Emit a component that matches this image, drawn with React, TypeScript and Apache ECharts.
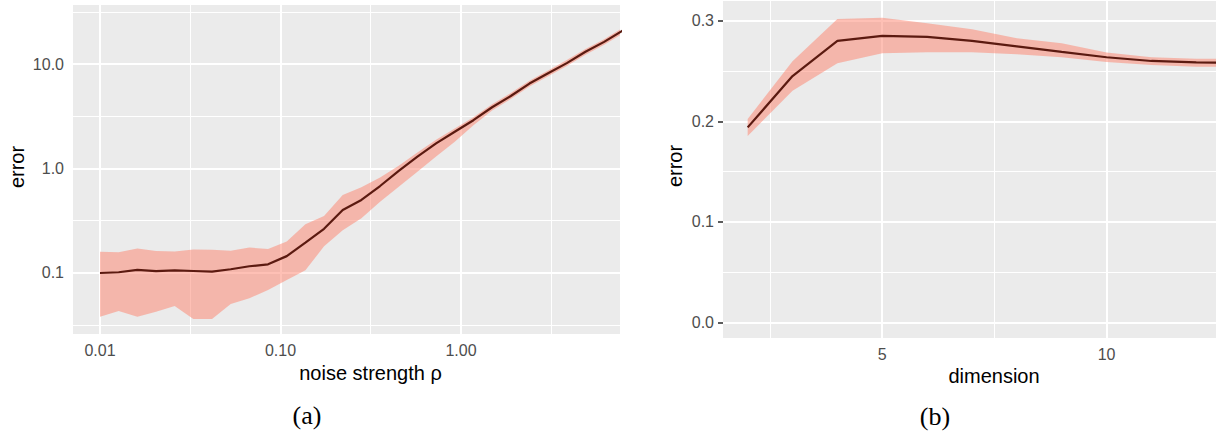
import React, { useEffect, useRef } from "react";
import * as echarts from "echarts";

// ---------- Panel (a): error vs noise strength (log-log) ----------
const noiseStrength = [
  0.01, 0.01269, 0.0161, 0.02043, 0.02593, 0.0329, 0.04175, 0.05298, 0.06723, 0.08532,
  0.1083, 0.1374, 0.1743, 0.2212, 0.2807, 0.3562, 0.452, 0.5736, 0.7279, 0.9237,
  1.172, 1.487, 1.887, 2.395, 3.039, 3.857, 4.894, 6.21, 7.88, 10.0,
];
const noiseErrMean = [
  0.1, 0.1016, 0.107, 0.104, 0.106, 0.1045, 0.103, 0.1085, 0.116, 0.121,
  0.145, 0.195, 0.265, 0.401, 0.5, 0.68, 0.95, 1.3, 1.74, 2.25,
  2.9, 3.86, 4.94, 6.5, 8.15, 10.2, 13.1, 16.3, 20.9, 26.5,
];
const noiseErrUpper = [
  0.16, 0.158, 0.172, 0.162, 0.161, 0.168, 0.167, 0.163, 0.175, 0.17,
  0.2, 0.292, 0.351, 0.557, 0.66, 0.82, 1.06, 1.42, 1.88, 2.42,
  3.1, 4.12, 5.27, 6.92, 8.68, 10.9, 13.9, 17.3, 22.2, 28.1,
];
const noiseErrLower = [
  0.0382, 0.0433, 0.0382, 0.0426, 0.0483, 0.0363, 0.0363, 0.0505, 0.0573, 0.0688,
  0.0857, 0.106, 0.18, 0.256, 0.335, 0.48, 0.67, 0.93, 1.3, 1.8,
  2.6, 3.6, 4.62, 6.1, 7.66, 9.58, 12.3, 15.3, 19.6, 24.9,
];
const noiseTickValues = [0.01, 0.1, 1];
const noiseTickLabels = ["0.01", "0.10", "1.00"];
const noiseErrTickValues = [0.1, 1, 10];
const noiseErrTickLabels = ["0.1", "1.0", "10.0"];

// ---------- Panel (b): error vs dimension ----------
const dimensions = [2, 3, 4, 5, 6, 7, 8, 9, 10, 11, 12, 13];
const dimErrMean = [0.194, 0.245, 0.28, 0.285, 0.284, 0.28, 0.2745, 0.269, 0.2637, 0.26, 0.2587, 0.258];
const dimErrUpper = [0.2023, 0.2597, 0.3018, 0.303, 0.2975, 0.2915, 0.2826, 0.2776, 0.2683, 0.2637, 0.2623, 0.262];
const dimErrLower = [0.1854, 0.2305, 0.2577, 0.2677, 0.2687, 0.2687, 0.2667, 0.2637, 0.259, 0.256, 0.2543, 0.254];
const dimTickValues = [5, 10];
const dimTickLabels = ["5", "10"];
const dimErrTickValues = [0, 0.1, 0.2, 0.3];
const dimErrTickLabels = ["0.0", "0.1", "0.2", "0.3"];

// ---------- styling ----------
const PANEL_BG = "#EBEBEB";
const RIBBON = "rgb(253,129,107)";
const LINE = "#5B1A10";
const TICK_TEXT = "#4D4D4D";
const FONT = '"Liberation Sans", Arial, Helvetica, sans-serif';
const SERIF = '"Liberation Serif", "Times New Roman", serif';

const lg = (v: number) => Math.round(Math.log10(v) * 1e9) / 1e9;

function minorsOf(major: number[]) {
  const step = major[1] - major[0];
  const out: number[] = [];
  for (let i = -1; i < major.length; i++) {
    const base = i < 0 ? major[0] - step : major[i];
    out.push(Math.round((base + step / 2) * 1e9) / 1e9);
  }
  return out;
}

function gridLines(majorX: number[], majorY: number[]) {
  const minorX = minorsOf(majorX);
  const minorY = minorsOf(majorY);
  const mk = (key: "xAxis" | "yAxis", v: number, w: number) => ({
    [key]: v,
    lineStyle: { color: "#FFFFFF", width: w, type: "solid", opacity: 1 },
  });
  return [
    ...minorX.map((v) => mk("xAxis", v, 1)),
    ...minorY.map((v) => mk("yAxis", v, 1)),
    ...majorX.map((v) => mk("xAxis", v, 2)),
    ...majorY.map((v) => mk("yAxis", v, 2)),
  ];
}

function labelFor(values: number[], labels: string[]) {
  return (v: number) => {
    let best = 0;
    for (let i = 1; i < values.length; i++) {
      if (Math.abs(values[i] - v) < Math.abs(values[best] - v)) best = i;
    }
    return labels[best];
  };
}

function axisCommon(tickVals: number[], tickLabels: string[], margin: number) {
  return {
    type: "value" as const,
    axisLine: { show: false },
    splitLine: { show: false },
    axisTick: {
      show: true,
      customValues: tickVals,
      length: 5,
      lineStyle: { color: "#333333", width: 1.6 },
    },
    axisLabel: {
      customValues: tickVals,
      formatter: labelFor(tickVals, tickLabels),
      color: TICK_TEXT,
      fontSize: 16,
      fontFamily: FONT,
      margin,
    },
  };
}

function bandSeries(
  idx: number,
  xs: number[],
  lower: number[],
  upper: number[],
  mean: number[],
  majorX: number[],
  majorY: number[]
) {
  return [
    {
      type: "line",
      xAxisIndex: idx,
      yAxisIndex: idx,
      data: [],
      silent: true,
      markLine: {
        silent: true,
        z: 1,
        symbol: ["none", "none"],
        label: { show: false },
        emphasis: { disabled: true },
        animation: false,
        data: gridLines(majorX, majorY),
      },
    },
    {
      type: "custom",
      xAxisIndex: idx,
      yAxisIndex: idx,
      clip: true,
      silent: true,
      z: 2,
      data: xs.map((x, i) => [x, lower[i], upper[i]]),
      encode: { x: 0, y: [1, 2] },
      renderItem: (params: any, api: any) => {
        if (params.dataIndex !== 0) return null;
        const pts: number[][] = [];
        for (let i = 0; i < xs.length; i++) pts.push(api.coord([xs[i], upper[i]]));
        for (let i = xs.length - 1; i >= 0; i--) pts.push(api.coord([xs[i], lower[i]]));
        return {
          type: "polygon",
          shape: { points: pts },
          style: { fill: RIBBON, opacity: 0.5, stroke: "none" },
        };
      },
    },
    {
      type: "line",
      xAxisIndex: idx,
      yAxisIndex: idx,
      data: xs.map((x, i) => [x, mean[i]]),
      symbol: "none",
      lineStyle: { color: LINE, width: 2.2 },
      silent: true,
      z: 3,
    },
  ];
}

export default function App() {
  const ref = useRef<HTMLDivElement>(null);

  useEffect(() => {
    if (!ref.current) return;
    const chart = echarts.init(ref.current, null, { renderer: "svg" });

    const nx = noiseStrength.map(lg);
    const nMean = noiseErrMean.map(lg);
    const nUp = noiseErrUpper.map(lg);
    const nLo = noiseErrLower.map(lg);
    const nxTicks = noiseTickValues.map(lg);
    const nyTicks = noiseErrTickValues.map(lg);

    const title = (text: string, x: number, y: number, rotate: boolean) => ({
      type: "text",
      x,
      y,
      rotation: rotate ? Math.PI / 2 : 0,
      style: { text, fontSize: 20, fontFamily: FONT, fill: "#000", align: "center", verticalAlign: "middle" },
    });
    const caption = (text: string, x: number, y: number) => ({
      type: "text",
      x,
      y,
      style: { text, fontSize: 26, fontFamily: SERIF, fill: "#000", align: "center", verticalAlign: "middle" },
    });

    const option = {
      animation: false,
      grid: [
        { left: 73, top: 5, width: 547, height: 329, show: true, backgroundColor: PANEL_BG, borderWidth: 0 },
        { left: 723, top: 1, width: 493, height: 337, show: true, backgroundColor: PANEL_BG, borderWidth: 0 },
      ],
      xAxis: [
        { gridIndex: 0, min: -2.1496, max: 0.881, ...axisCommon(nxTicks, noiseTickLabels, 8) },
        { gridIndex: 1, min: 1.45, max: 12.44, ...axisCommon(dimTickValues, dimTickLabels, 8) },
      ],
      yAxis: [
        { gridIndex: 0, min: -1.584, max: 1.565, ...axisCommon(nyTicks, noiseErrTickLabels, 9) },
        { gridIndex: 1, min: -0.0153, max: 0.3196, ...axisCommon(dimErrTickValues, dimErrTickLabels, 9) },
      ],
      series: [
        ...bandSeries(0, nx, nLo, nUp, nMean, nxTicks, nyTicks),
        ...bandSeries(1, dimensions, dimErrLower, dimErrUpper, dimErrMean, dimTickValues, dimErrTickValues),
      ],
      graphic: [
        title("error", 16.5, 167, true),
        title("error", 675, 166, true),
        title("noise strength ρ", 370.5, 373, false),
        title("dimension", 994, 376, false),
        caption("(a)", 307, 415),
        caption("(b)", 935, 416),
      ],
    };

    chart.setOption(option as any);
    return () => chart.dispose();
  }, []);

  return (
    <div
      ref={ref}
      style={{ position: "absolute", left: 0, top: 0, width: 1216, height: 432, background: "#FFFFFF" }}
    />
  );
}
